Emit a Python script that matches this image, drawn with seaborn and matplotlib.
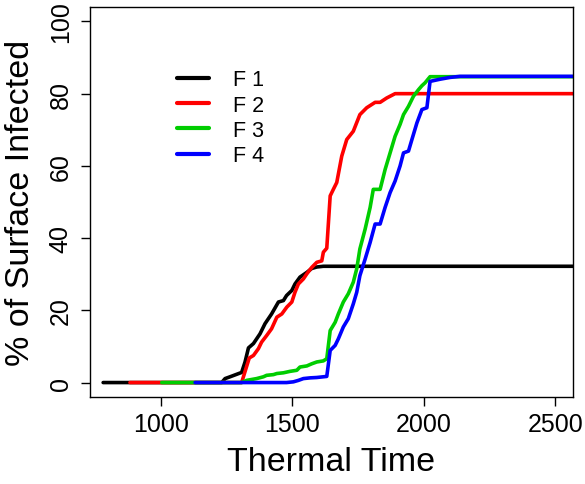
import numpy as np
import pandas as pd
import matplotlib
matplotlib.use("Agg")
import matplotlib.pyplot as plt
import seaborn as sns

# data (thermal time, % of surface infected)
f1_x = [780, 1231, 1244, 1263, 1307, 1320, 1333, 1352, 1377, 1396, 1421, 1447, 1466,
        1478, 1498, 1510, 1529, 1555, 1574, 1593, 1618, 2600]
f1_y = [0, 0, 1.1, 1.6, 2.8, 5.7, 9.6, 10.8, 13.5, 16.3, 19.0, 22.3, 22.7,
        24.1, 25.5, 27.3, 29.2, 30.5, 31.6, 32.0, 32.2, 32.2]

f2_x = [882, 1307, 1336, 1352, 1371, 1383, 1402, 1421, 1441, 1460, 1479, 1498, 1510,
        1523, 1542, 1555, 1574, 1593, 1612, 1618, 1631, 1644, 1656, 1669, 1688, 1707,
        1732, 1757, 1783, 1815, 1834, 1859, 1891, 2600]
f2_y = [0, 0, 6.8, 7.5, 9.4, 11.2, 13.0, 14.9, 18.1, 19.0, 20.9, 22.3, 25.0,
        27.3, 28.7, 30.1, 31.9, 33.3, 33.7, 36.1, 37.2, 51.7, 53.5, 55.4, 62.7, 67.3,
        69.6, 74.2, 76.1, 77.6, 77.6, 78.8, 80.0, 80.0]

f3_x = [1003, 1307, 1326, 1364, 1390, 1402, 1428, 1441, 1466, 1491, 1517, 1529, 1555,
        1574, 1593, 1618, 1631, 1644, 1663, 1675, 1694, 1713, 1732, 1745, 1757, 1777,
        1796, 1808, 1834, 1853, 1872, 1891, 1910, 1923, 1942, 1961, 1980, 1993, 2005,
        2024, 2600]
f3_y = [0, 0, 0.6, 1.1, 1.6, 2.0, 2.2, 2.5, 2.7, 3.1, 3.4, 4.3, 4.6,
        5.2, 5.7, 6.0, 6.6, 14.4, 16.7, 19.0, 22.3, 24.6, 27.8, 31.5, 37.0, 42.5,
        48.5, 53.5, 53.5, 59.0, 63.6, 68.2, 71.5, 74.2, 76.5, 79.3, 81.1, 82.2, 83.0,
        84.7, 84.7]

f4_x = [1130, 1478, 1504, 1523, 1542, 1568, 1593, 1631, 1644, 1663, 1675, 1694, 1713,
        1732, 1745, 1757, 1777, 1796, 1815, 1834, 1853, 1872, 1891, 1910, 1923, 1942,
        1955, 1974, 1993, 2012, 2024, 2062, 2100, 2138, 2600]
f4_y = [0, 0, 0.2, 0.6, 1.1, 1.3, 1.4, 1.7, 8.9, 10.3, 12.1, 15.4, 17.7,
        21.8, 25.0, 29.6, 34.2, 38.8, 43.9, 43.9, 48.5, 52.6, 55.8, 60.0, 63.6, 64.1,
        67.3, 71.9, 75.6, 76.1, 83.4, 84.0, 84.5, 84.8, 84.8]

labels = ["F 1", "F 2", "F 3", "F 4"]
colors = ["#000000", "#FF0000", "#00CD00", "#0000FF"]

df = pd.concat([
    pd.DataFrame({"time": x, "pct": y, "field": lab})
    for x, y, lab in zip([f1_x, f2_x, f3_x, f4_x], [f1_y, f2_y, f3_y, f4_y], labels)
])

sns.set_theme(style="white", rc={"text.color": "black", "axes.labelcolor": "black",
                                 "xtick.color": "black", "ytick.color": "black",
                                 "axes.edgecolor": "black"})
plt.rcParams["font.family"] = ["Liberation Sans", "DejaVu Sans"]

fig = plt.figure(figsize=(5.85, 4.85), dpi=100)
ax = fig.add_axes([90 / 585, 1 - 398 / 485, 483 / 585, 390 / 485])

sns.lineplot(data=df, x="time", y="pct", hue="field", palette=colors,
             estimator=None, sort=False, linewidth=2.6, ax=ax)

ax.set_xlim(730, 2568)
ax.set_ylim(-4, 104)
ax.set_xticks([1000, 1500, 2000, 2500])
ax.set_yticks([0, 20, 40, 60, 80, 100])
ax.tick_params(axis="both", direction="out", length=6.5, width=1, color="black",
               labelsize=18, pad=4.5, left=True, bottom=True)
ax.tick_params(axis="y", pad=6)
for lab in ax.get_yticklabels():
    lab.set_rotation(90)
    lab.set_va("center")
for s in ax.spines.values():
    s.set_color("black")
    s.set_linewidth(1)

ax.set_xlabel("Thermal Time", fontsize=24.5, labelpad=7)
ax.set_ylabel("% of Surface Infected", fontsize=24.5, labelpad=9)

leg = ax.legend(loc="upper left", bbox_to_anchor=(0.14, 0.89), frameon=False,
                fontsize=15.5, handlelength=1.5, handletextpad=1.1,
                labelspacing=0.2)
for line in leg.get_lines():
    line.set_linewidth(3)

fig.savefig("out.png", dpi=100)
